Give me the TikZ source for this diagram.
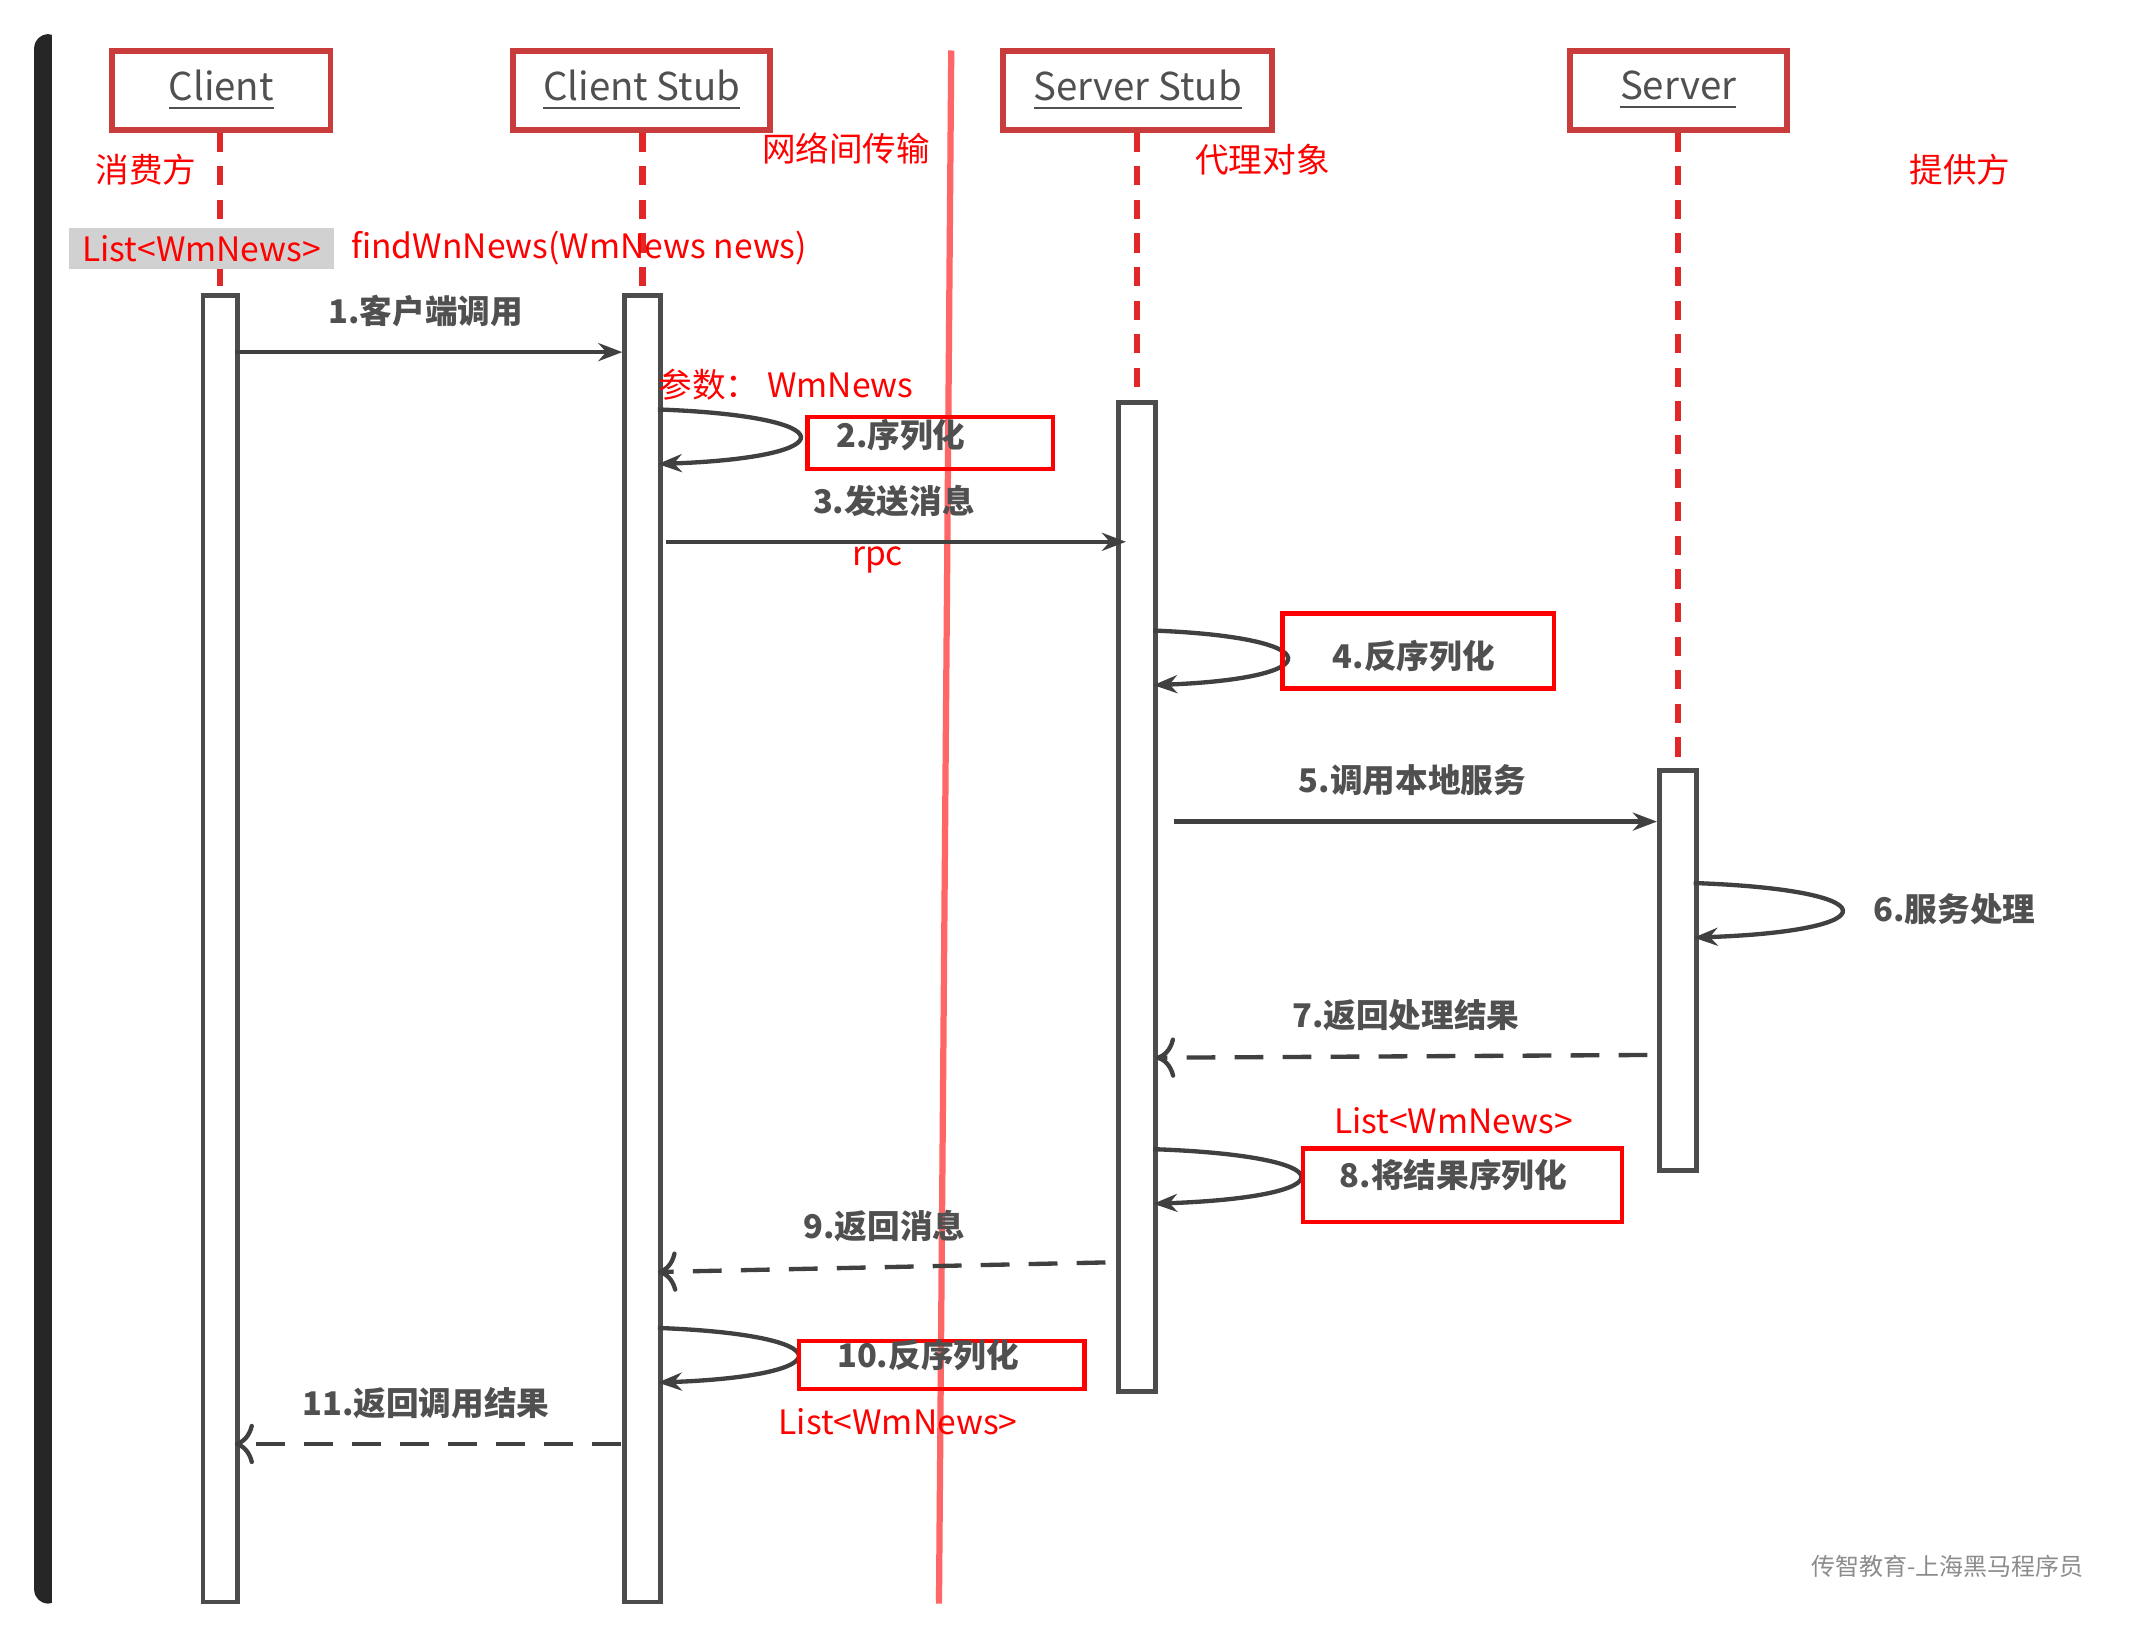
\documentclass[tikz,border=0pt]{standalone}
\usepackage{fontspec}
\setmainfont{Noto Sans CJK SC}
\usetikzlibrary{arrows.meta}
\definecolor{boxred}{RGB}{200,60,60}
\definecolor{linered}{RGB}{225,40,40}
\definecolor{txtgray}{RGB}{80,80,80}
\tikzset{
  head/.style={draw=boxred,line width=1.2pt,text=txtgray,font=\fontsize{8}{9}\selectfont,anchor=north west,inner sep=0pt},
  bar/.style={draw=black!70,line width=1pt,fill=white,anchor=north west,inner sep=0pt},
  life/.style={linered,line width=1.3pt,dash pattern=on 4pt off 3pt},
  msg/.style={black!75,line width=0.9pt,-{Stealth[length=5pt]}},
  back/.style={black!75,line width=0.9pt,dash pattern=on 6pt off 4pt,-{To[length=4pt]}},
  lbl/.style={text=txtgray,font=\fontsize{6.8}{8}\selectfont\bfseries},
  note/.style={text=red,font=\fontsize{7}{8}\selectfont},
  rbox/.style={draw=red,line width=0.9pt,anchor=north west,inner sep=0pt}
}
\begin{document}
\begin{tikzpicture}[x=0.01cm,y=-0.01cm]
\useasboundingbox (0,0) rectangle (1568,1200);
\fill[black!85,rounded corners=3pt] (25,25) rectangle (45,1175);
\fill[white] (38,25) rectangle (1543,1175);
% heads
\node[head,minimum width=160*0.01cm,minimum height=58*0.01cm] (client) at (80,35) {\underline{Client}};
\node[head,minimum width=188*0.01cm,minimum height=58*0.01cm] (cstub) at (374,35) {\underline{Client Stub}};
\node[head,minimum width=197*0.01cm,minimum height=58*0.01cm] (sstub) at (733,35) {\underline{Server Stub}};
\node[head,minimum width=159*0.01cm,minimum height=58*0.01cm] (server) at (1148,35) {\underline{Server}};
% activation bars
\node[bar,minimum width=25*0.01cm,minimum height=957*0.01cm] (bclient) at (147,215) {};
\node[bar,minimum width=26*0.01cm,minimum height=957*0.01cm] (bcstub) at (456,215) {};
\node[bar,minimum width=27*0.01cm,minimum height=725*0.01cm] (bsstub) at (818,293) {};
\node[bar,minimum width=27*0.01cm,minimum height=293*0.01cm] (bserver) at (1214,563) {};
% lifelines
\draw[life] (client.south -| bclient.north) -- (bclient.north);
\draw[life] (cstub.south -| bcstub.north) -- (bcstub.north);
\draw[life] (sstub.south -| bsstub.north) -- (bsstub.north);
\draw[life] (server.south -| bserver.north) -- (bserver.north);
% network split
\coordinate (nt) at (697,37);
\coordinate (nb) at (688,1175);
\draw[red!60,line width=1.3pt] (nt) -- (nb);
% messages
\coordinate (m1a) at (172,258); \coordinate (m1b) at (456,258);
\draw[msg] (m1a) -- (m1b);
\node[lbl] (l1) at (312,228) {1.客户端调用};
\coordinate (s2a) at (482,300); \coordinate (s2b) at (482,340);
\draw[msg] (s2a) .. controls (620,305) and (620,335) .. (s2b);
\node[rbox,minimum width=180*0.01cm,minimum height=38*0.01cm] (r2) at (590,304) {};
\node[lbl] (l2) at (660,319) {2.序列化};
\coordinate (m3a) at (488,397); \coordinate (m3b) at (825,397);
\draw[msg] (m3a) -- (m3b);
\node[lbl] (l3) at (655,367) {3.发送消息};
\node[note] (rpc) at (643,410) {rpc};
\coordinate (s4a) at (845,462); \coordinate (s4b) at (845,502);
\draw[msg] (s4a) .. controls (975,467) and (975,497) .. (s4b);
\node[rbox,minimum width=199*0.01cm,minimum height=55*0.01cm] (r4) at (938,448) {};
\node[lbl] (l4) at (1036,481) {4.反序列化};
\coordinate (m5a) at (860,602); \coordinate (m5b) at (1214,602);
\draw[msg] (m5a) -- (m5b);
\node[lbl] (l5) at (1035,572) {5.调用本地服务};
\coordinate (s6a) at (1241,647); \coordinate (s6b) at (1241,687);
\draw[msg] (s6a) .. controls (1385,652) and (1385,682) .. (s6b);
\node[lbl] (l6) at (1432,666) {6.服务处理};
\coordinate (m7a) at (1207,773); \coordinate (m7b) at (847,775);
\draw[back] (m7a) -- (m7b);
\node[lbl] (l7) at (1030,744) {7.返回处理结果};
\coordinate (s8a) at (845,842); \coordinate (s8b) at (845,882);
\draw[msg] (s8a) .. controls (988,847) and (988,877) .. (s8b);
\node[rbox,minimum width=234*0.01cm,minimum height=54*0.01cm] (r8) at (953,840) {};
\node[lbl] (l8) at (1065,861) {8.将结果序列化};
\node[note] (t8) at (1065,821) {List<WmNews>};
\coordinate (m9a) at (810,925); \coordinate (m9b) at (482,932);
\draw[back] (m9a) -- (m9b);
\node[lbl] (l9) at (648,898) {9.返回消息};
\coordinate (s10a) at (482,973); \coordinate (s10b) at (482,1013);
\draw[msg] (s10a) .. controls (618,978) and (618,1008) .. (s10b);
\node[rbox,minimum width=209*0.01cm,minimum height=35*0.01cm] (r10) at (584,981) {};
\node[lbl] (l10) at (680,993) {10.反序列化};
\node[note] (t10) at (658,1042) {List<WmNews>};
\coordinate (m11a) at (455,1058); \coordinate (m11b) at (172,1058);
\draw[back] (m11a) -- (m11b);
\node[lbl] (l11) at (312,1028) {11.返回调用结果};
% red notes
\node[note] (n1) at (107,124) {消费方};
\node[note] (n2) at (620,109) {网络间传输};
\node[note] (n3) at (925,117) {代理对象};
\node[note] (n4) at (1436,124) {提供方};
\node[note,fill=black!18,anchor=west,minimum width=194*0.01cm,minimum height=30*0.01cm,inner sep=0pt] (ret) at (50,182) {List<WmNews>};
\node[note,anchor=west] (sig) at (245,182) {findWnNews(WmNews news)};
\node[note] (par) at (576,282) {参数：~WmNews};
\node[text=black!45,font=\fontsize{5}{6}\selectfont] (wm) at (1427,1148) {传智教育-上海黑马程序员};
\end{tikzpicture}
\end{document}
